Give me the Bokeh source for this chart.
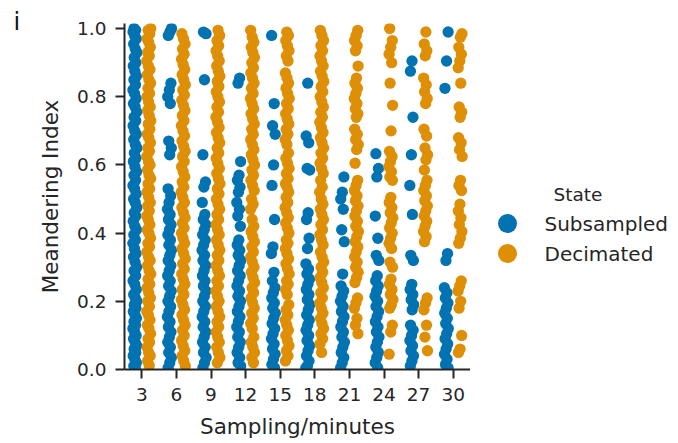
from bokeh.plotting import figure
from bokeh.models import Range1d, FixedTicker, ColumnDataSource
from bokeh.layouts import row
from bokeh.embed import file_html
from bokeh.resources import INLINE
from bokeh.core.properties import value

categories = ["3", "6", "9", "12", "15", "18", "21", "24", "27", "30"]
states = ["Subsampled", "Decimated"]
colors = ["#0173b2", "#de8f05"]
y_ticks = [0.0, 0.2, 0.4, 0.6, 0.8, 1.0]

sub_3 = [0.003, 0.01, 0.02, 0.03, 0.04, 0.05, 0.06, 0.07, 0.08, 0.09, 0.10, 0.11, 0.12, 0.13, 0.14, 0.15, 0.16, 0.17,
         0.18, 0.19, 0.20, 0.21, 0.22, 0.235, 0.25, 0.26, 0.275, 0.29, 0.30, 0.315, 0.33, 0.34, 0.355, 0.37, 0.38, 0.395,
         0.41, 0.42, 0.435, 0.45, 0.46, 0.475, 0.49, 0.50, 0.515, 0.53, 0.54, 0.555, 0.57, 0.58, 0.595, 0.61, 0.62, 0.635,
         0.65, 0.66, 0.675, 0.69, 0.70, 0.715, 0.73, 0.74, 0.755, 0.77, 0.78, 0.795, 0.81, 0.82, 0.835, 0.85, 0.86, 0.875,
         0.89, 0.90, 0.915, 0.93, 0.94, 0.955, 0.97, 0.98, 0.99, 0.995, 1.0]
dec_3 = [0.012, 0.025, 0.04, 0.05, 0.065, 0.08, 0.09, 0.105, 0.12, 0.13, 0.145, 0.16, 0.17, 0.185, 0.20, 0.21, 0.225,
         0.24, 0.25, 0.265, 0.28, 0.29, 0.305, 0.32, 0.33, 0.345, 0.36, 0.37, 0.385, 0.40, 0.41, 0.425, 0.44, 0.45, 0.465,
         0.48, 0.49, 0.505, 0.52, 0.53, 0.545, 0.56, 0.57, 0.585, 0.60, 0.61, 0.625, 0.64, 0.65, 0.665, 0.68, 0.69, 0.705,
         0.72, 0.73, 0.745, 0.76, 0.77, 0.785, 0.80, 0.81, 0.825, 0.84, 0.85, 0.865, 0.88, 0.89, 0.905, 0.92, 0.93, 0.945,
         0.96, 0.97, 0.985, 0.995, 1.0]
sub_6 = [1.0, 0.99, 0.98, 0.84, 0.82, 0.80, 0.78, 0.67, 0.65, 0.63, 0.53, 0.51, 0.49, 0.47, 0.455, 0.44, 0.425, 0.41,
         0.395, 0.38, 0.365, 0.35, 0.335, 0.32, 0.305, 0.29, 0.275, 0.26, 0.245, 0.23, 0.215, 0.20, 0.185, 0.17, 0.155,
         0.14, 0.125, 0.11, 0.095, 0.08, 0.065, 0.05, 0.035, 0.02, 0.005]
dec_6 = [0.01, 0.025, 0.04, 0.055, 0.07, 0.085, 0.10, 0.115, 0.13, 0.145, 0.16, 0.175, 0.19, 0.205, 0.22, 0.235, 0.25,
         0.265, 0.28, 0.295, 0.31, 0.325, 0.34, 0.355, 0.37, 0.385, 0.40, 0.415, 0.43, 0.445, 0.46, 0.475, 0.49, 0.505,
         0.52, 0.535, 0.55, 0.565, 0.58, 0.595, 0.61, 0.625, 0.64, 0.655, 0.67, 0.685, 0.70, 0.715, 0.73, 0.745, 0.76,
         0.775, 0.79, 0.805, 0.82, 0.835, 0.85, 0.865, 0.88, 0.895, 0.91, 0.925, 0.94, 0.955, 0.97, 0.985]
sub_9 = [0.99, 0.985, 0.85, 0.63, 0.55, 0.535, 0.49, 0.455, 0.44, 0.425, 0.41, 0.395, 0.38, 0.365, 0.35, 0.335, 0.32,
         0.305, 0.29, 0.275, 0.26, 0.245, 0.23, 0.215, 0.20, 0.185, 0.17, 0.155, 0.14, 0.125, 0.11, 0.095, 0.08, 0.065,
         0.05, 0.035, 0.02, 0.005]
dec_9 = [0.02, 0.035, 0.05, 0.065, 0.08, 0.095, 0.11, 0.125, 0.14, 0.155, 0.17, 0.185, 0.20, 0.215, 0.23, 0.245, 0.26,
         0.275, 0.29, 0.305, 0.32, 0.335, 0.35, 0.365, 0.38, 0.395, 0.41, 0.425, 0.44, 0.455, 0.47, 0.485, 0.50, 0.515,
         0.53, 0.545, 0.56, 0.575, 0.59, 0.605, 0.62, 0.635, 0.65, 0.665, 0.68, 0.695, 0.71, 0.725, 0.74, 0.755, 0.77,
         0.785, 0.80, 0.815, 0.83, 0.845, 0.86, 0.875, 0.89, 0.905, 0.92, 0.935, 0.95, 0.965, 0.98, 0.995]
sub_12 = [0.855, 0.84, 0.61, 0.57, 0.555, 0.535, 0.52, 0.49, 0.47, 0.45, 0.42, 0.38, 0.365, 0.35, 0.335, 0.32, 0.305,
          0.29, 0.275, 0.26, 0.245, 0.23, 0.215, 0.20, 0.185, 0.17, 0.155, 0.14, 0.125, 0.11, 0.095, 0.08, 0.065, 0.05,
          0.035, 0.02, 0.01]
dec_12 = [0.02, 0.035, 0.05, 0.065, 0.08, 0.095, 0.12, 0.135, 0.15, 0.165, 0.18, 0.195, 0.21, 0.225, 0.24, 0.255,
          0.27, 0.285, 0.30, 0.315, 0.33, 0.345, 0.36, 0.375, 0.39, 0.405, 0.42, 0.44, 0.47, 0.485, 0.50, 0.525, 0.54,
          0.555, 0.57, 0.585, 0.60, 0.615, 0.63, 0.645, 0.66, 0.675, 0.69, 0.705, 0.72, 0.735, 0.75, 0.765, 0.78, 0.795,
          0.81, 0.825, 0.84, 0.855, 0.87, 0.885, 0.90, 0.915, 0.93, 0.945, 0.96, 0.975, 0.995]
sub_15 = [0.98, 0.78, 0.715, 0.69, 0.60, 0.54, 0.44, 0.36, 0.34, 0.285, 0.26, 0.24, 0.225, 0.21, 0.195, 0.18, 0.165,
          0.15, 0.135, 0.12, 0.105, 0.09, 0.075, 0.06, 0.045, 0.03, 0.015, 0.005]
dec_15 = [0.025, 0.04, 0.055, 0.07, 0.085, 0.10, 0.115, 0.13, 0.145, 0.16, 0.175, 0.19, 0.22, 0.235, 0.25, 0.26,
          0.28, 0.295, 0.31, 0.325, 0.34, 0.355, 0.37, 0.38, 0.40, 0.415, 0.43, 0.445, 0.46, 0.475, 0.49, 0.505, 0.52,
          0.535, 0.545, 0.56, 0.575, 0.59, 0.605, 0.62, 0.635, 0.66, 0.675, 0.69, 0.705, 0.72, 0.735, 0.75, 0.765,
          0.78, 0.795, 0.81, 0.825, 0.84, 0.855, 0.87, 0.905, 0.92, 0.935, 0.95, 0.965, 0.98, 0.99]
sub_18 = [0.84, 0.685, 0.665, 0.59, 0.585, 0.46, 0.44, 0.385, 0.355, 0.31, 0.295, 0.28, 0.265, 0.25, 0.235, 0.22,
          0.205, 0.19, 0.175, 0.16, 0.145, 0.13, 0.115, 0.10, 0.085, 0.07, 0.055, 0.04, 0.025, 0.01, 0.005]
dec_18 = [0.05, 0.075, 0.09, 0.105, 0.12, 0.135, 0.15, 0.165, 0.18, 0.195, 0.21, 0.225, 0.24, 0.255, 0.27, 0.285,
          0.30, 0.315, 0.33, 0.345, 0.365, 0.38, 0.395, 0.41, 0.425, 0.44, 0.455, 0.47, 0.485, 0.50, 0.52, 0.535, 0.555,
          0.575, 0.59, 0.605, 0.62, 0.635, 0.65, 0.665, 0.68, 0.695, 0.71, 0.725, 0.74, 0.755, 0.77, 0.785, 0.80, 0.815,
          0.83, 0.845, 0.86, 0.875, 0.89, 0.905, 0.92, 0.935, 0.95, 0.965, 0.98, 0.995]
sub_21 = [0.565, 0.52, 0.50, 0.47, 0.41, 0.375, 0.28, 0.245, 0.23, 0.215, 0.20, 0.185, 0.17, 0.155, 0.14, 0.125,
          0.11, 0.095, 0.08, 0.065, 0.05, 0.035, 0.02, 0.005]
dec_21 = [0.995, 0.98, 0.965, 0.95, 0.935, 0.89, 0.855, 0.84, 0.825, 0.81, 0.795, 0.78, 0.765, 0.75, 0.74, 0.705,
          0.69, 0.675, 0.66, 0.645, 0.605, 0.555, 0.54, 0.525, 0.51, 0.495, 0.48, 0.465, 0.45, 0.435, 0.42, 0.405, 0.39,
          0.375, 0.36, 0.345, 0.33, 0.315, 0.30, 0.285, 0.27, 0.255, 0.21, 0.195, 0.18, 0.15, 0.13, 0.105]
sub_24 = [0.633, 0.59, 0.565, 0.45, 0.385, 0.335, 0.32, 0.275, 0.26, 0.245, 0.23, 0.215, 0.20, 0.185, 0.17, 0.155,
          0.14, 0.125, 0.11, 0.095, 0.08, 0.065, 0.05, 0.035, 0.02, 0.005]
dec_24 = [1.0, 0.965, 0.945, 0.925, 0.90, 0.84, 0.775, 0.70, 0.64, 0.625, 0.61, 0.595, 0.58, 0.565, 0.555, 0.505,
          0.49, 0.475, 0.46, 0.445, 0.43, 0.415, 0.40, 0.385, 0.37, 0.355, 0.315, 0.30, 0.265, 0.25, 0.235, 0.22, 0.205,
          0.19, 0.18, 0.13, 0.11, 0.045]
sub_27 = [0.905, 0.875, 0.74, 0.63, 0.54, 0.455, 0.335, 0.32, 0.25, 0.235, 0.22, 0.205, 0.19, 0.175, 0.13, 0.115,
          0.10, 0.085, 0.07, 0.055, 0.04, 0.025, 0.01]
dec_27 = [0.99, 0.955, 0.935, 0.92, 0.855, 0.835, 0.815, 0.795, 0.78, 0.705, 0.685, 0.65, 0.63, 0.615, 0.585, 0.555,
          0.54, 0.525, 0.51, 0.495, 0.48, 0.465, 0.45, 0.435, 0.42, 0.405, 0.39, 0.375, 0.21, 0.195, 0.175, 0.13, 0.095,
          0.055]
sub_30 = [0.99, 0.905, 0.825, 0.34, 0.32, 0.24, 0.225, 0.21, 0.195, 0.18, 0.165, 0.15, 0.135, 0.12, 0.105, 0.09,
          0.075, 0.06, 0.045, 0.03, 0.015, 0.005]
dec_30 = [0.985, 0.975, 0.945, 0.925, 0.905, 0.885, 0.84, 0.77, 0.755, 0.74, 0.68, 0.665, 0.645, 0.625, 0.555, 0.54,
          0.525, 0.485, 0.465, 0.445, 0.425, 0.405, 0.385, 0.37, 0.26, 0.245, 0.23, 0.20, 0.18, 0.10, 0.06, 0.05]

subsampled = [sub_3, sub_6, sub_9, sub_12, sub_15, sub_18, sub_21, sub_24, sub_27, sub_30]
decimated = [dec_3, dec_6, dec_9, dec_12, dec_15, dec_18, dec_21, dec_24, dec_27, dec_30]

TXT = "#262626"
FONT = "DejaVu Sans"

LEFT, TOP, BOTTOM = 124, 23, 74
FRAME_W, FRAME_H = 346, 346
LEG_W = 208

p = figure(frame_width=FRAME_W, frame_height=FRAME_H, x_range=Range1d(-0.5, 9.5), y_range=Range1d(0, 1.015),
           output_backend="svg", toolbar_location=None,
           min_border_left=LEFT, min_border_right=0, min_border_top=TOP, min_border_bottom=BOTTOM)
p.outline_line_color = None
p.xgrid.visible = False
p.ygrid.visible = False

# dodge + deterministic jitter (layout only)
dodges = [-0.2, 0.2]
for si, groups in enumerate([subsampled, decimated]):
    xs, ys = [], []
    for ci, vals in enumerate(groups):
        for k, v in enumerate(vals):
            j = (((k + 1) * 0.6180339887 + ci * 0.37) % 1.0 - 0.5) * 0.12
            xs.append(ci + dodges[si] + j)
            ys.append(v)
    src = ColumnDataSource(dict(x=xs, y=ys))
    p.scatter("x", "y", source=src, size=11.3, fill_color=colors[si], line_color=None)

p.xaxis.ticker = FixedTicker(ticks=list(range(len(categories))))
p.xaxis.major_label_overrides = {i: c for i, c in enumerate(categories)}
p.yaxis.ticker = FixedTicker(ticks=y_ticks)
p.yaxis.major_label_overrides = {t: f"{t:.1f}" for t in y_ticks}

for ax in (p.xaxis, p.yaxis):
    ax.axis_line_color = TXT
    ax.axis_line_width = 2
    ax.major_tick_line_color = TXT
    ax.major_tick_line_width = 2
    ax.major_tick_in = 0
    ax.major_tick_out = 9
    ax.minor_tick_line_color = None
    ax.major_label_text_font = FONT
    ax.major_label_text_color = TXT
    ax.major_label_text_font_size = "18.5px"
    ax.axis_label_text_font = FONT
    ax.axis_label_text_color = TXT
    ax.axis_label_text_font_size = "21.5px"
    ax.axis_label_text_font_style = "normal"
    ax.major_label_standoff = 9

p.xaxis.axis_label = "Sampling/minutes"
p.yaxis.axis_label = "Meandering Index"
p.xaxis.axis_label_standoff = 10
p.yaxis.axis_label_standoff = 11

# panel letter as a left-aligned title pulled down next to the top of the axis
p.title.text = "i"
p.title.align = "left"
p.title.offset = -111
p.title.standoff = -25
p.title.text_font = FONT
p.title.text_font_size = "24px"
p.title.text_font_style = "normal"
p.title.text_color = "#111111"

# legend panel (pixel coordinates of the legend area)
leg = figure(frame_width=LEG_W, frame_height=FRAME_H, x_range=Range1d(470, 470 + LEG_W),
             y_range=Range1d(TOP + FRAME_H, TOP), output_backend="svg", toolbar_location=None,
             min_border_left=0, min_border_right=0, min_border_top=TOP, min_border_bottom=BOTTOM,
             x_axis_type=None, y_axis_type=None)
leg.outline_line_color = None
leg.xgrid.visible = False
leg.ygrid.visible = False
leg_src = ColumnDataSource(dict(x=[507, 507], y=[223, 253], label=states, color=colors, tx=[544, 544]))
leg.scatter("x", "y", source=leg_src, size=19, fill_color="color", line_color=None)
leg.text("tx", "y", text="label", source=leg_src, text_font=value(FONT), text_font_size="20px",
         text_color=TXT, text_baseline="middle", text_align="left")
leg.text([553], [194], text=["State"], text_font=value(FONT), text_font_size="18.5px",
         text_color=TXT, text_baseline="middle", text_align="left")

layout = row(p, leg, spacing=0)
open("out.html", "w").write(file_html(layout, INLINE))
